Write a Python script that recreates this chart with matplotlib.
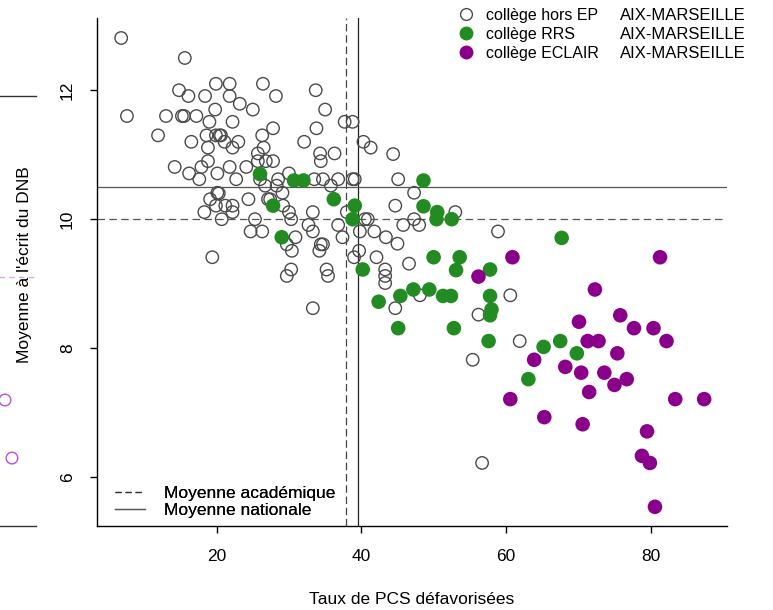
import matplotlib
matplotlib.use("Agg")
import matplotlib.pyplot as plt
from matplotlib.lines import Line2D

plt.rcParams['font.family'] = ['Liberation Sans', 'DejaVu Sans']

# collèges hors EP (taux PCS défavorisées, moyenne écrit DNB)
hors_ep_x = [6.8, 15.6, 19.9, 21.8, 26.4, 14.8, 16.1, 18.4, 21.8, 28.2, 33.7, 23.2, 19.8, 25.0,
             35.0, 7.6, 13.0, 15.2, 15.5, 17.2, 19.0, 22.2, 37.7, 38.8, 27.8, 33.8, 11.9, 18.6,
             19.9, 20.4, 20.6, 26.3, 16.5, 21.1, 23.0, 32.1, 40.3, 41.3, 18.8, 22.2, 26.5, 34.3,
             36.3, 44.4, 25.7, 18.8, 34.4, 25.7, 26.8, 27.8, 14.2, 17.9, 21.8, 24.1, 16.2, 20.1,
             17.6, 22.7, 26.0, 28.5, 30.0, 33.5, 34.7, 36.8, 38.8, 39.1, 45.1, 26.7, 28.3, 35.8,
             20.1, 29.1, 20.3, 47.3, 19.1, 24.4, 27.1, 27.4, 19.9, 21.2, 22.2, 29.2, 44.7, 53.0,
             18.3, 22.2, 30.0, 33.3, 38.0, 20.7, 25.3, 30.3, 40.5, 40.9, 47.3, 32.7, 36.8, 45.8,
             48.0, 24.7, 26.3, 33.3, 39.8, 41.8, 58.9, 30.9, 37.4, 43.4, 29.7, 34.4, 34.7, 45.0,
             30.4, 34.2, 39.7, 19.4, 39.0, 42.1, 30.3, 35.2, 43.3, 29.7, 35.4, 43.3, 43.3, 46.6,
             48.1, 60.6, 44.7, 33.3, 56.2, 61.9, 55.4, 56.7]
hors_ep_y = [12.81, 12.50, 12.10, 12.10, 12.10, 12.00, 11.91, 11.91, 11.91, 11.91, 12.00, 11.79,
             11.70, 11.70, 11.70, 11.60, 11.60, 11.60, 11.60, 11.60, 11.51, 11.51, 11.51, 11.51,
             11.41, 11.41, 11.30, 11.30, 11.30, 11.30, 11.30, 11.30, 11.20, 11.20, 11.20, 11.20,
             11.20, 11.11, 11.11, 11.11, 11.11, 11.02, 11.02, 11.01, 11.02, 10.90, 10.90, 10.90,
             10.90, 10.90, 10.81, 10.81, 10.81, 10.81, 10.71, 10.71, 10.62, 10.62, 10.62, 10.62,
             10.71, 10.62, 10.62, 10.62, 10.62, 10.62, 10.62, 10.52, 10.52, 10.52, 10.41, 10.41,
             10.40, 10.41, 10.31, 10.31, 10.31, 10.31, 10.21, 10.21, 10.21, 10.21, 10.21, 10.11,
             10.11, 10.11, 10.11, 10.11, 10.11, 10.00, 10.00, 10.00, 10.00, 10.00, 10.00, 9.91,
             9.91, 9.91, 9.91, 9.81, 9.81, 9.81, 9.81, 9.81, 9.81, 9.72, 9.72, 9.72, 9.61, 9.61,
             9.61, 9.62, 9.51, 9.51, 9.51, 9.41, 9.41, 9.41, 9.22, 9.22, 9.22, 9.12, 9.12, 9.12,
             9.01, 9.31, 8.82, 8.82, 8.62, 8.62, 8.52, 8.11, 7.82, 6.22]

# collèges RRS
rrs_x = [26.0, 30.7, 32.0, 27.8, 36.2, 39.1, 38.8, 29.0, 40.2, 48.6, 48.6, 50.5, 50.4, 52.5,
         67.7, 50.0, 53.6, 53.1, 57.8, 47.2, 49.4, 45.4, 51.3, 52.4, 57.8, 42.4, 58.0, 57.8,
         45.1, 52.8, 57.6, 67.5, 65.2, 69.8, 63.1]
rrs_y = [10.70, 10.60, 10.60, 10.21, 10.31, 10.21, 10.00, 9.72, 9.22, 10.60, 10.20, 10.11, 10.00,
         10.00, 9.71, 9.41, 9.41, 9.21, 9.22, 8.91, 8.91, 8.81, 8.81, 8.81, 8.81, 8.72, 8.60,
         8.51, 8.31, 8.31, 8.11, 8.11, 8.02, 7.92, 7.52]

# collèges ECLAIR
eclair_x = [60.9, 81.3, 56.2, 72.3, 70.1, 75.8, 77.7, 80.4, 82.2, 71.3, 72.8, 75.4, 63.9, 68.2,
            70.4, 73.6, 76.7, 75.0, 71.5, 60.6, 83.4, 87.4, 65.3, 70.6, 79.5, 78.8, 79.9, 80.6]
eclair_y = [9.41, 9.41, 9.11, 8.91, 8.41, 8.51, 8.31, 8.31, 8.11, 8.11, 8.11, 7.92, 7.82, 7.71,
            7.62, 7.62, 7.52, 7.43, 7.32, 7.21, 7.21, 7.21, 6.93, 6.82, 6.71, 6.33, 6.22, 5.54]

moy_acad_pcs = 37.9
moy_nat_pcs = 39.55
moy_acad_dnb = 10.0
moy_nat_dnb = 10.5

x_ticks = [20, 40, 60, 80]
y_ticks = [6, 8, 10, 12]

# bout de graphique voisin visible au bord gauche
voisin_x = [0.585, 0.678]
voisin_y = [0.293, 0.158]
voisin_ligne = 0.579

W, H = 773, 610
fig = plt.figure(figsize=(W / 100, H / 100), dpi=100)

ax0 = fig.add_axes([-0.05, (H - 526) / H, 0.05 + 36 / W, 430 / H])
ax0.set_xlim(0, 1)
ax0.set_ylim(0, 1)
for s in ['left', 'right']:
    ax0.spines[s].set_visible(False)
for s in ['top', 'bottom']:
    ax0.spines[s].set_color('#333333')
    ax0.spines[s].set_linewidth(1.0)
ax0.set_xticks([])
ax0.set_yticks([])
ax0.patch.set_alpha(0)
ax0.axhline(voisin_ligne, color='#d9a6e6', lw=1.0, dashes=(4, 3))
ax0.scatter(voisin_x, voisin_y, s=70, facecolors='none', edgecolors='#b84fe8', linewidths=1.0, clip_on=False)

ax = fig.add_axes([97 / W, (H - 525.5) / H, 630 / W, 507.5 / H])
ax.set_xlim(3.46, 90.56)
ax.set_ylim(5.25, 13.12)

ax.axvline(moy_acad_pcs, color='#444444', lw=0.9, dashes=(6, 3))
ax.axvline(moy_nat_pcs, color='#222222', lw=0.9)
ax.axhline(moy_acad_dnb, color='#555555', lw=0.9, dashes=(6, 3.5))
ax.axhline(moy_nat_dnb, color='#555555', lw=0.9)

ax.scatter(hors_ep_x, hors_ep_y, s=80, facecolors='none', edgecolors='#4a4a4a', linewidths=1.0, zorder=3)
ax.scatter(rrs_x, rrs_y, s=110, color='#228b22', edgecolors='none', zorder=4)
ax.scatter(eclair_x, eclair_y, s=110, color='#8b008b', edgecolors='none', zorder=5)

for s in ['top', 'right']:
    ax.spines[s].set_visible(False)
ax.spines['left'].set_linewidth(1.0)
ax.spines['bottom'].set_linewidth(1.0)
ax.set_xticks(x_ticks)
ax.set_yticks(y_ticks)
ax.tick_params(length=5, width=1.0, labelsize=12.5)
ax.tick_params(axis='x', pad=12)
ax.tick_params(axis='y', pad=11, labelrotation=90)
for t in ax.get_yticklabels():
    t.set_va('center')

ax.set_xlabel("Taux de PCS défavorisées", fontsize=12.5, labelpad=20)
fig.text(25 / W, 1 - 265 / H, "Moyenne à l'écrit du DNB", rotation=90, fontsize=12.5,
         ha='center', va='center')

# légende des lignes
lh = [Line2D([], [], color='#333333', lw=0.9, dashes=(5, 3)),
      Line2D([], [], color='#555555', lw=0.9)]
leg1 = ax.legend(lh, ["Moyenne académique", "Moyenne nationale"], loc='lower left',
                 bbox_to_anchor=(115 / W, (H - 518) / H), bbox_transform=fig.transFigure,
                 frameon=False, fontsize=12.5, handlelength=1.75, handletextpad=1.1,
                 labelspacing=0.1, borderpad=0, borderaxespad=0)
ax.add_artist(leg1)

# légende des types de collège
ph = [Line2D([], [], ls='none', marker='o', ms=8.5, mfc='none', mec='#4a4a4a', mew=1.0),
      Line2D([], [], ls='none', marker='o', ms=10, mfc='#228b22', mec='none'),
      Line2D([], [], ls='none', marker='o', ms=10, mfc='#8b008b', mec='none')]
leg2 = fig.legend(ph, ["collège hors EP", "collège RRS", "collège ECLAIR"], loc='upper left',
                  bbox_to_anchor=(458 / W, 1 - 8 / H), frameon=False, fontsize=11.5,
                  handlelength=1.0, handletextpad=0.75, labelspacing=0.25, borderpad=0,
                  borderaxespad=0)

fig.canvas.draw()
inv = fig.transFigure.inverted()
for t in leg2.get_texts():
    bb = t.get_window_extent()
    yc = inv.transform((0, (bb.y0 + bb.y1) / 2))[1]
    fig.text(620 / W, yc, "AIX-MARSEILLE", fontsize=12, ha='left', va='center')

fig.savefig("out.png", dpi=100)
